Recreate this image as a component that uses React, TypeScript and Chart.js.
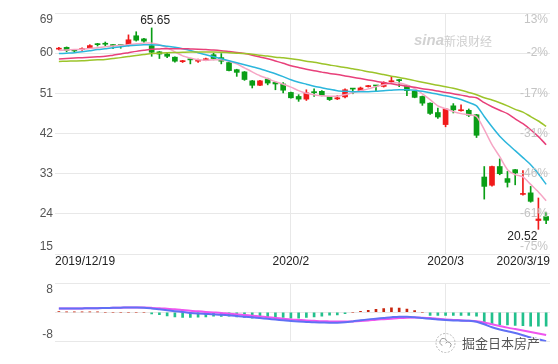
import React, { useEffect, useRef } from 'react';
import { Chart, registerables } from 'chart.js';

Chart.register(...registerables);

// ---------------- data ----------------
const dates: string[] = [
  '2019/12/19', '2019/12/20', '2019/12/23', '2019/12/24', '2019/12/26', '2019/12/27', '2019/12/30', '2019/12/31',
  '2020/1/2', '2020/1/3', '2020/1/6', '2020/1/7', '2020/1/8', '2020/1/9', '2020/1/10', '2020/1/13', '2020/1/14',
  '2020/1/15', '2020/1/16', '2020/1/17', '2020/1/20', '2020/1/21', '2020/1/22', '2020/1/23', '2020/1/24',
  '2020/1/27', '2020/1/28', '2020/1/29', '2020/1/30', '2020/1/31',
  '2020/2/3', '2020/2/4', '2020/2/5', '2020/2/6', '2020/2/7', '2020/2/10', '2020/2/11', '2020/2/12', '2020/2/13',
  '2020/2/14', '2020/2/17', '2020/2/18', '2020/2/19', '2020/2/20', '2020/2/21', '2020/2/24', '2020/2/25',
  '2020/2/26', '2020/2/27', '2020/2/28',
  '2020/3/2', '2020/3/3', '2020/3/4', '2020/3/5', '2020/3/6', '2020/3/9', '2020/3/10', '2020/3/11', '2020/3/12',
  '2020/3/13', '2020/3/16', '2020/3/17', '2020/3/18', '2020/3/19',
];

const openP: number[] = [
  60.9, 61.3, 60.6, 60.8, 61.2, 62.0, 62.1, 61.8, 61.8, 61.75, 63.9, 63.2, 61.7, 60.3, 59.8, 59.1,
  58.1, 58.6, 58.2, 58.4, 59.65, 59.0, 57.9, 56.3, 55.8, 53.8, 52.8, 54.2, 53.45, 53.1, 51.2, 50.3,
  49.7, 51.25, 51.45, 50.2, 49.75, 50.2, 52.05, 51.6, 52.5, 52.75, 52.55, 53.6, 53.95, 52.7, 51.45, 50.3,
  48.8, 46.7, 44.0, 48.2, 47.1, 47.2, 46.2, 32.25, 30.4, 34.6, 31.9, 33.9, 28.35, 28.7, 22.5, 23.4,
];
const highP: number[] = [
  61.3, 61.4, 60.7, 61.2, 61.9, 62.2, 62.5, 61.9, 61.9, 64.1, 64.8, 63.3, 65.65, 60.4, 60.0, 59.2,
  58.4, 58.7, 58.7, 58.9, 60.0, 59.9, 57.9, 56.4, 55.9, 53.9, 53.9, 54.4, 53.6, 53.4, 51.3, 50.7,
  51.8, 52.0, 51.6, 50.3, 50.5, 52.0, 52.1, 52.4, 52.8, 52.8, 53.6, 54.8, 54.1, 52.8, 51.6, 50.4,
  48.9, 47.7, 47.6, 48.7, 48.45, 47.5, 46.3, 34.6, 34.7, 36.3, 33.5, 33.95, 33.7, 30.15, 27.55, 24.3,
];
const lowP: number[] = [
  60.7, 60.3, 60.3, 60.6, 61.1, 61.6, 61.6, 61.0, 61.1, 61.6, 62.7, 62.4, 59.3, 58.8, 59.0, 58.0,
  57.9, 57.6, 57.9, 58.3, 58.5, 57.6, 56.0, 54.8, 53.9, 52.2, 52.7, 52.9, 51.8, 51.1, 49.9, 49.2,
  49.4, 50.3, 50.4, 49.4, 49.6, 50.0, 50.9, 51.5, 52.4, 51.4, 52.4, 53.3, 52.5, 50.5, 50.0, 48.3,
  46.3, 45.4, 43.5, 46.6, 47.0, 45.8, 41.1, 27.3, 30.2, 32.75, 30.0, 30.5, 28.2, 26.6, 20.52, 21.8,
];
const closeP: number[] = [
  61.0, 60.6, 60.5, 60.95, 61.7, 61.9, 62.0, 61.7, 61.7, 63.0, 62.9, 62.7, 60.2, 59.8, 59.3, 58.2,
  58.2, 58.5, 58.35, 58.75, 58.8, 58.2, 56.1, 55.7, 54.1, 52.8, 53.8, 53.3, 53.1, 51.7, 50.0, 49.7,
  51.1, 51.15, 50.55, 49.6, 50.0, 51.8, 51.95, 52.2, 52.6, 52.65, 53.45, 53.7, 53.85, 51.6, 50.1, 48.8,
  46.5, 45.7, 47.5, 47.3, 47.25, 46.1, 41.6, 30.15, 34.6, 33.0, 31.05, 33.15, 28.5, 26.8, 22.85, 22.55,
];

const ma5: number[] = [
  60.6, 60.7, 60.8, 60.9, 61.05, 61.2, 61.45, 61.6, 61.75, 61.9, 62.1, 62.25, 62.25, 61.9, 61.2, 60.3,
  59.4, 58.9, 58.5, 58.4, 58.5, 58.5, 58.2, 57.6, 56.7, 55.8, 54.95, 54.3, 53.6, 53.05, 52.4, 51.6,
  51.0, 50.7, 50.45, 50.35, 50.35, 50.7, 51.15, 51.6, 52.0, 52.5, 52.9, 53.3, 53.3, 52.85, 52.05, 50.9,
  49.6, 48.2, 47.55, 46.9, 46.45, 46.2, 45.8, 42.85, 39.5, 36.8, 33.9, 32.8, 32.3, 30.6, 28.9, 26.95,
];
const ma10: number[] = [
  59.9, 60.0, 60.1, 60.3, 60.55, 60.8, 61.0, 61.2, 61.45, 61.65, 61.8, 61.9, 61.9, 61.8, 61.55, 61.3,
  61.0, 60.6, 60.1, 59.65, 59.2, 58.75, 58.3, 57.85, 57.4, 56.95, 56.5, 55.95, 55.4, 54.75, 54.05, 53.5,
  53.05, 52.6, 52.25, 51.9, 51.6, 51.45, 51.35, 51.35, 51.35, 51.45, 51.6, 51.7, 51.8, 51.8, 51.7, 51.45,
  51.15, 50.8, 50.45, 50.05, 49.6, 48.95, 48.2, 45.8, 43.5, 41.4, 39.7, 38.15, 36.6, 35.0, 33.0, 30.6,
];
const ma20: number[] = [
  58.7, 58.8, 58.9, 59.0, 59.1, 59.2, 59.3, 59.55, 59.8, 60.1, 60.4, 60.65, 60.9, 60.95, 61.0, 61.0,
  61.0, 60.95, 60.9, 60.8, 60.7, 60.55, 60.35, 60.15, 59.9, 59.55, 59.15, 58.75, 58.25, 57.75, 57.2, 56.8,
  56.4, 56.05, 55.75, 55.45, 55.2, 54.9, 54.6, 54.3, 54.0, 53.7, 53.4, 53.15, 52.85, 52.6, 52.35, 52.05,
  51.8, 51.5, 51.2, 50.9, 50.6, 50.25, 50.0, 48.9, 48.0, 47.2, 46.45, 45.3, 44.2, 42.85, 41.3, 39.5,
];
const ma30: number[] = [
  58.15, 58.2, 58.25, 58.3, 58.4, 58.5, 58.6, 58.8, 59.0, 59.25, 59.5, 59.7, 59.9, 60.0, 60.1, 60.15,
  60.2, 60.25, 60.25, 60.25, 60.25, 60.2, 60.1, 60.0, 59.9, 59.75, 59.55, 59.35, 59.1, 58.95, 58.75, 58.5,
  58.2, 57.95, 57.65, 57.35, 57.05, 56.8, 56.5, 56.2, 55.85, 55.55, 55.2, 54.85, 54.55, 54.2, 53.85, 53.5,
  53.15, 52.8, 52.5, 52.15, 51.7, 51.2, 50.7, 50.0, 49.5, 48.9, 48.2, 47.4, 46.8, 45.8, 44.8, 43.6,
];

const dif: number[] = [
  1.0, 1.0, 1.0, 1.05, 1.1, 1.1, 1.15, 1.2, 1.25, 1.3, 1.3, 1.25, 1.05, 0.8, 0.55, 0.3,
  0.05, -0.2, -0.35, -0.45, -0.55, -0.7, -0.85, -1.0, -1.2, -1.4, -1.6, -1.8, -2.0, -2.2, -2.4, -2.55,
  -2.65, -2.75, -2.8, -2.85, -2.85, -2.75, -2.5, -2.2, -1.95, -1.75, -1.55, -1.35, -1.2, -1.25, -1.4, -1.6,
  -1.8, -2.0, -2.15, -2.25, -2.3, -2.35, -2.6, -3.3, -4.1, -4.7, -5.2, -5.7, -6.3, -6.9, -7.4, -7.9,
];
const dea: number[] = [
  1.0, 1.0, 1.0, 1.05, 1.1, 1.12, 1.15, 1.2, 1.25, 1.28, 1.3, 1.28, 1.2, 1.1, 0.95, 0.8,
  0.6, 0.4, 0.25, 0.1, -0.05, -0.2, -0.4, -0.55, -0.75, -0.95, -1.15, -1.35, -1.55, -1.75, -1.95, -2.1,
  -2.25, -2.35, -2.45, -2.5, -2.55, -2.55, -2.5, -2.4, -2.25, -2.05, -1.9, -1.75, -1.6, -1.5, -1.45, -1.5,
  -1.6, -1.8, -2.0, -2.1, -2.2, -2.3, -2.45, -2.8, -3.3, -3.75, -4.2, -4.6, -5.0, -5.4, -5.8, -6.2,
];
const macdHist: number[] = [
  0.15, 0.1, 0.1, 0.1, 0.1, 0.1, 0, 0, 0, 0, 0, 0, -0.45, -0.63, -1.0, -1.26,
  -1.44, -1.44, -1.35, -1.26, -1.08, -1.17, -1.08, -1.26, -1.44, -1.62, -1.7, -1.7, -1.62, -1.44, -1.62, -1.62,
  -1.44, -1.26, -1.08, -0.81, -0.72, -0.36, 0, 0.28, 0.5, 0.8, 1.0, 1.2, 1.15, 0.85, 0.45, 0,
  -0.85, -0.85, -0.85, -0.85, -0.85, -0.9, -1.1, -2.9, -3.2, -3.4, -3.45, -3.6, -3.7, -3.8, -3.8, -3.8,
];

const priceTicks: number[] = [15, 24, 33, 42, 51, 60, 69];
const pctTicks: string[] = ['-75%', '-61%', '-46%', '-31%', '-17%', '-2%', '13%'];
const macdTicks: number[] = [-8, 0, 8];
const macdTickLabels: string[] = ['-8', '', '8'];
const xLabels: string[] = ['2019/12/19', '2020/2', '2020/3', '2020/3/19'];
const watermarkTop = ['sina', '新浪财经'];
const watermarkBottom = '掘金日本房产';

// ---------------- styles ----------------
const FONT = "Arial, 'Liberation Sans', sans-serif";
const CJK = "'Noto Sans CJK SC', sans-serif";
const UP = '#f01a1a';
const DOWN = '#0a9e16';
const GRID = '#e8e8e8';

const candleColors = openP.map((o, i) => (closeP[i] >= o ? UP : DOWN));

// index of a label within the dates array (first date starting with it)
const labelIndex = (lab: string) => {
  const exact = dates.indexOf(lab);
  if (exact >= 0) return exact;
  return dates.findIndex((d) => d.startsWith(lab + '/'));
};
const gridIdx = [labelIndex(xLabels[1]), labelIndex(xLabels[2])];

const xScaleOpts = {
  type: 'category' as const,
  offset: true,
  grid: {
    offset: false,
    drawTicks: false,
    color: (ctx: any) => (gridIdx.includes(ctx.index) ? GRID : 'rgba(0,0,0,0)'),
    lineWidth: 1,
  },
  border: { display: false },
  ticks: { display: false, autoSkip: false },
  afterFit: (s: any) => {
    s.height = 0;
  },
};

function drawYLabels(ctx: CanvasRenderingContext2D, chart: any, values: number[], labels: string[], side: 'left' | 'right', color: string) {
  const { top, bottom, left, right } = chart.chartArea;
  const ys = chart.scales.y;
  ctx.save();
  ctx.font = `12px ${FONT}`;
  ctx.fillStyle = color;
  ctx.textAlign = side === 'left' ? 'right' : 'right';
  values.forEach((v, i) => {
    const t = labels[i];
    if (!t) return;
    let y = ys.getPixelForValue(v);
    if (Math.abs(y - top) < 1) {
      ctx.textBaseline = 'top';
      y = top + 1;
    } else if (Math.abs(y - bottom) < 1) {
      ctx.textBaseline = 'bottom';
      y = bottom - 1;
    } else {
      ctx.textBaseline = 'middle';
    }
    const x = side === 'left' ? left - 2 : right - 2;
    ctx.fillText(t, x, y);
  });
  ctx.restore();
}

const topPlugin = {
  id: 'topText',
  afterDraw(chart: any) {
    const ctx: CanvasRenderingContext2D = chart.ctx;
    const xs = chart.scales.x;
    const ys = chart.scales.y;
    const { left, right, bottom } = chart.chartArea;
    // watermark
    ctx.save();
    ctx.fillStyle = '#d2d2d2';
    ctx.font = `italic bold 15px ${FONT}`;
    ctx.textBaseline = 'middle';
    ctx.textAlign = 'left';
    ctx.fillText(watermarkTop[0], 414, 41);
    ctx.font = `12px ${CJK}`;
    ctx.fillStyle = '#cfcfcf';
    ctx.fillText(watermarkTop[1], 444, 41);
    ctx.restore();

    drawYLabels(ctx, chart, priceTicks, priceTicks.map(String), 'left', '#555');
    drawYLabels(ctx, chart, priceTicks, pctTicks, 'right', '#c4c4c4');

    // x labels
    ctx.save();
    ctx.font = `12px ${FONT}`;
    ctx.fillStyle = '#222';
    ctx.textBaseline = 'middle';
    const ly = bottom + 8;
    xLabels.forEach((lab, k) => {
      if (k === 0) {
        ctx.textAlign = 'left';
        ctx.fillText(lab, left, ly);
      } else if (k === xLabels.length - 1) {
        ctx.textAlign = 'right';
        ctx.fillText(lab, right, ly);
      } else {
        ctx.textAlign = 'center';
        ctx.fillText(lab, xs.getPixelForValue(labelIndex(lab)), ly);
      }
    });

    // max / min annotations
    let hi = 0;
    let lo = 0;
    highP.forEach((v, i) => {
      if (v > highP[hi]) hi = i;
    });
    lowP.forEach((v, i) => {
      if (v < lowP[lo]) lo = i;
    });
    ctx.fillStyle = '#222';
    ctx.textAlign = 'center';
    ctx.fillText(highP[hi].toFixed(2), xs.getPixelForValue(hi) + 3.5, ys.getPixelForValue(highP[hi]) - 7.5);
    ctx.textAlign = 'right';
    ctx.fillText(lowP[lo].toFixed(2), xs.getPixelForValue(lo) - 1, ys.getPixelForValue(lowP[lo]) + 7);
    ctx.restore();
  },
};

const bottomPlugin = {
  id: 'bottomText',
  afterDraw(chart: any) {
    const ctx: CanvasRenderingContext2D = chart.ctx;
    drawYLabels(ctx, chart, macdTicks, macdTickLabels, 'left', '#555');
    // watermark
    ctx.save();
    const cx = 445.5;
    const cy = 343 - 275;
    ctx.strokeStyle = '#b8b8b8';
    ctx.lineWidth = 1;
    ctx.setLineDash([2, 1.5]);
    ctx.beginPath();
    ctx.arc(cx, cy, 9.5, 0, Math.PI * 2);
    ctx.stroke();
    ctx.setLineDash([]);
    ctx.strokeStyle = '#999';
    ctx.beginPath();
    ctx.arc(cx - 2, cy - 1, 3.5, Math.PI * 0.6, Math.PI * 1.9);
    ctx.stroke();
    ctx.beginPath();
    ctx.arc(cx + 2.5, cy + 2, 3, Math.PI * 1.2, Math.PI * 2.3);
    ctx.stroke();
    ctx.font = `13px ${CJK}`;
    ctx.textBaseline = 'middle';
    ctx.textAlign = 'left';
    ctx.lineWidth = 2;
    ctx.strokeStyle = 'rgba(255,255,255,0.9)';
    ctx.strokeText(watermarkBottom, 462, cy);
    ctx.fillStyle = '#555';
    ctx.fillText(watermarkBottom, 462, cy);
    ctx.restore();
  },
};

export default function App() {
  const topRef = useRef<HTMLCanvasElement>(null);
  const botRef = useRef<HTMLCanvasElement>(null);

  useEffect(() => {
    const top = new Chart(topRef.current as HTMLCanvasElement, {
      type: 'bar',
      data: {
        labels: dates,
        datasets: [
          {
            type: 'line',
            data: ma30,
            borderColor: '#9cc42a',
            borderWidth: 1.5,
            pointRadius: 0,
            tension: 0.25,
            order: 0,
          } as any,
          {
            type: 'line',
            data: ma20,
            borderColor: '#e8407a',
            borderWidth: 1.5,
            pointRadius: 0,
            tension: 0.25,
            order: 0,
          } as any,
          {
            type: 'line',
            data: ma10,
            borderColor: '#2cb6dc',
            borderWidth: 1.5,
            pointRadius: 0,
            tension: 0.25,
            order: 0,
          } as any,
          {
            type: 'line',
            data: ma5,
            borderColor: '#f6a5c4',
            borderWidth: 1.5,
            pointRadius: 0,
            tension: 0.25,
            order: 0,
          } as any,
          {
            type: 'bar',
            data: openP.map((o, i) => [o, closeP[i]]),
            backgroundColor: candleColors,
            barThickness: 5,
            minBarLength: 1,
            grouped: false,
            borderWidth: 0,
            order: 1,
          } as any,
          {
            type: 'bar',
            data: lowP.map((l, i) => [l, highP[i]]),
            backgroundColor: candleColors,
            barThickness: 1,
            grouped: false,
            borderWidth: 0,
            order: 2,
          } as any,
        ],
      },
      options: {
        responsive: false,
        animation: false,
        layout: { padding: { left: 55, right: 8, top: 13, bottom: 21 } },
        plugins: { legend: { display: false }, tooltip: { enabled: false } },
        scales: {
          x: xScaleOpts as any,
          y: {
            min: 15,
            max: 69,
            grid: { color: GRID, drawTicks: false },
            border: { display: false },
            ticks: { display: false, stepSize: 9 },
            afterFit: (s: any) => {
              s.width = 0;
            },
          } as any,
        },
      },
      plugins: [topPlugin],
    });

    const bot = new Chart(botRef.current as HTMLCanvasElement, {
      type: 'bar',
      data: {
        labels: dates,
        datasets: [
          {
            type: 'line',
            data: dea,
            borderColor: '#ef55ef',
            borderWidth: 2,
            pointRadius: 0,
            tension: 0.3,
            order: 1,
          } as any,
          {
            type: 'line',
            data: dif,
            borderColor: '#6070f5',
            borderWidth: 2,
            pointRadius: 0,
            tension: 0.3,
            order: 0,
          } as any,
          {
            type: 'bar',
            data: macdHist,
            backgroundColor: macdHist.map((v) => (v >= 0 ? '#c8260e' : '#22c08c')),
            barThickness: 2,
            grouped: false,
            borderWidth: 0,
            order: 2,
          } as any,
        ],
      },
      options: {
        responsive: false,
        animation: false,
        layout: { padding: { left: 55, right: 8, top: 8, bottom: 22.5 } },
        plugins: { legend: { display: false }, tooltip: { enabled: false } },
        scales: {
          x: xScaleOpts as any,
          y: {
            min: -8,
            max: 8,
            grid: { color: GRID, drawTicks: false },
            border: { display: false },
            ticks: { display: false, stepSize: 8 },
            afterFit: (s: any) => {
              s.width = 0;
            },
          } as any,
        },
      },
      plugins: [bottomPlugin],
    });

    return () => {
      top.destroy();
      bot.destroy();
    };
  }, []);

  return (
    <div style={{ position: 'fixed', left: 0, top: 0, width: 558, height: 364, background: '#fff' }}>
      <canvas ref={topRef} width={558} height={275} style={{ position: 'absolute', left: 0, top: 0 }} />
      <canvas ref={botRef} width={558} height={89} style={{ position: 'absolute', left: 0, top: 275 }} />
    </div>
  );
}
